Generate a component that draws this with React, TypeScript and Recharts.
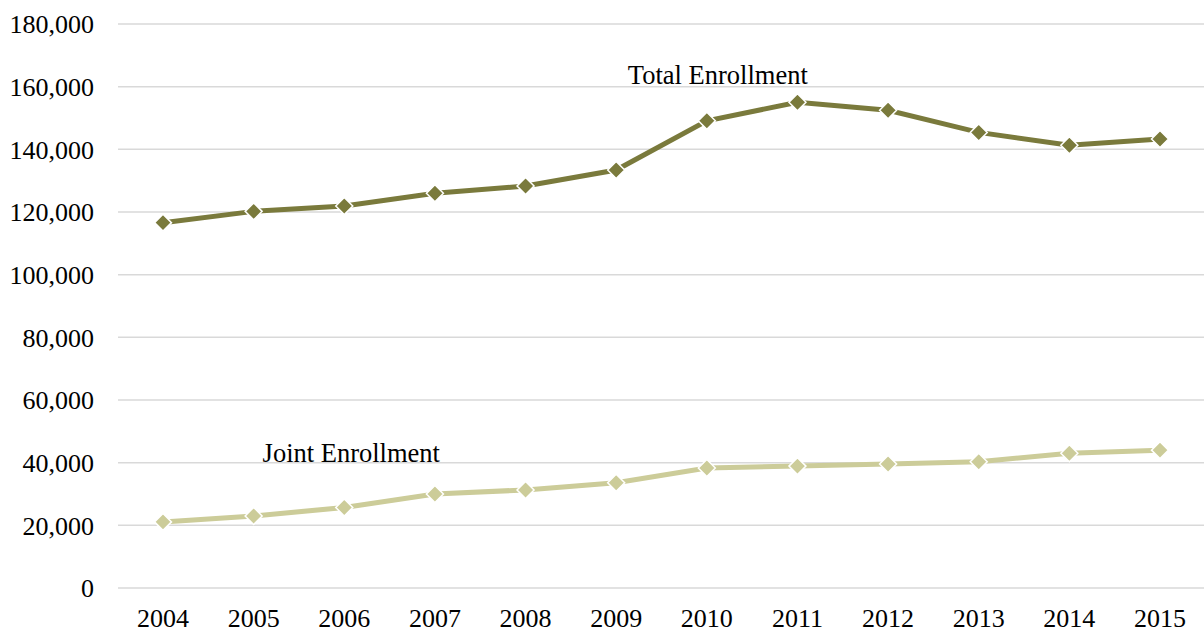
import { LineChart, Line, XAxis, YAxis, CartesianGrid, LabelList } from "recharts";

const years = ["2004", "2005", "2006", "2007", "2008", "2009", "2010", "2011", "2012", "2013", "2014", "2015"];
const totalEnrollment = [116600, 120200, 121900, 126000, 128300, 133400, 149100, 155000, 152450, 145400, 141300, 143300];
const jointEnrollment = [21100, 23000, 25700, 30000, 31300, 33600, 38300, 38900, 39600, 40300, 43000, 44000];
const yTicks = [0, 20000, 40000, 60000, 80000, 100000, 120000, 140000, 160000, 180000];

const data = years.map((year, i) => ({
  year,
  total: totalEnrollment[i],
  joint: jointEnrollment[i],
}));

const FONT = "'Liberation Serif', 'Times New Roman', serif";

const Diamond = (color: string) => (props: any) => {
  const { cx, cy, index } = props;
  if (cx == null || cy == null) return <g key={index} />;
  const r = 8.5;
  return (
    <polygon
      key={index}
      points={`${cx},${cy - r} ${cx + r},${cy} ${cx},${cy + r} ${cx - r},${cy}`}
      fill={color}
      stroke="#ffffff"
      strokeWidth={1.5}
    />
  );
};

const seriesLabel = (text: string, at: number, dx: number, dy: number) => (props: any) => {
  const { x, y, index } = props;
  if (index !== at) return null;
  return (
    <text x={x + dx} y={y + dy} textAnchor="middle" fontFamily={FONT} fontSize={26.5} fill="#000">
      {text}
    </text>
  );
};

const App = () => {
  return (
    <div style={{ position: "absolute", left: 0, top: 0, background: "#fff" }}>
      <LineChart
        width={1204}
        height={631}
        data={data}
        margin={{ top: 24, right: 0, bottom: 0, left: 0 }}
      >
        <CartesianGrid vertical={false} stroke="#d9d9d9" strokeWidth={1.5} />
        <XAxis
          dataKey="year"
          axisLine={false}
          tickLine={false}
          height={43}
          tickMargin={15}
          padding={{ left: 45, right: 44 }}
          tick={{ fontFamily: FONT, fontSize: 26, fill: "#000" }}
        />
        <YAxis
          domain={[0, 180000]}
          ticks={yTicks}
          width={118}
          axisLine={false}
          tickLine={false}
          tickMargin={18}
          tickFormatter={(v: number) => v.toLocaleString("en-US")}
          tick={{ fontFamily: FONT, fontSize: 26, fill: "#000" }}
        />
        <Line
          dataKey="total"
          stroke="#7a7a3c"
          strokeWidth={5}
          dot={Diamond("#7a7a3c")}
          activeDot={false}
          isAnimationActive={false}
        >
          <LabelList dataKey="total" content={seriesLabel("Total Enrollment", 6, 11, -37)} />
        </Line>
        <Line
          dataKey="joint"
          stroke="#cccc99"
          strokeWidth={5}
          dot={Diamond("#cccc99")}
          activeDot={false}
          isAnimationActive={false}
        >
          <LabelList dataKey="joint" content={seriesLabel("Joint Enrollment", 2, 7, -45)} />
        </Line>
      </LineChart>
    </div>
  );
};

export default App;
